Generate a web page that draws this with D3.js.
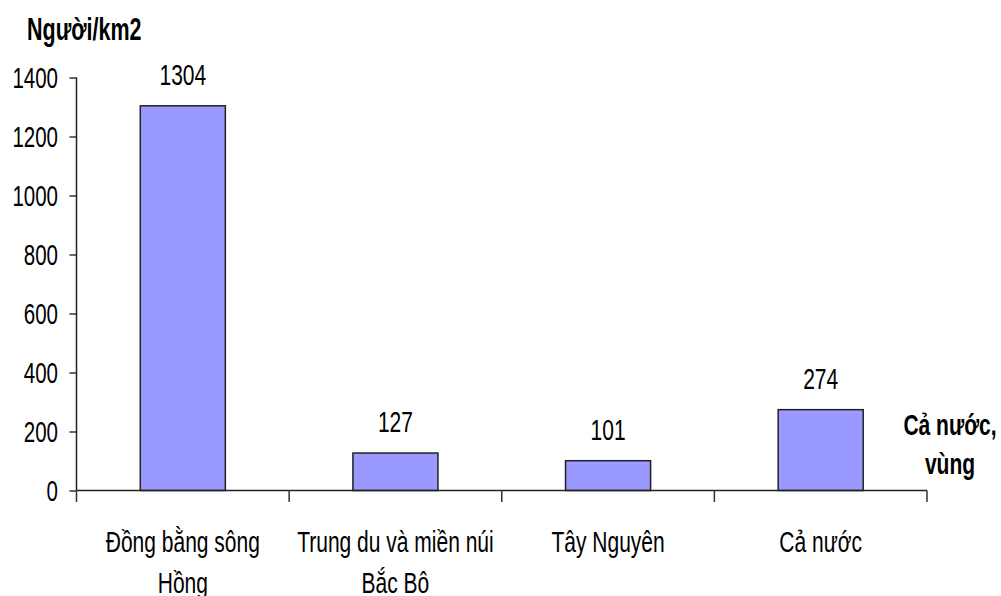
<!DOCTYPE html>
<meta charset="utf-8">
<script src="https://cdn.jsdelivr.net/npm/d3@7"></script>
<style>
body {margin: 0; background: #fff;}
text {font-family: "Liberation Sans", Arial, sans-serif; fill: #000;}
.bar {fill: #9999ff; stroke: #222; stroke-width: 1.5;}
.axis-line {stroke: #222; stroke-width: 1.5;}
.tick-mark {stroke: #333; stroke-width: 1.5;}
</style>
<div id="vis"></div>
<script>

// Data
var categories = ["Đồng bằng sông Hồng", "Trung du và miền núi Bắc Bô", "Tây Nguyên", "Cả nước"];
var categoryLines = [["Đồng bằng sông", "Hồng"], ["Trung du và miền núi", "Bắc Bô"], ["Tây Nguyên"], ["Cả nước"]];
var density = [1304, 127, 101, 274];
var yTicks = [0, 200, 400, 600, 800, 1000, 1200, 1400];
var yTitle = "Người/km2";
var xTitle = ["Cả nước,", "vùng"];

var w = 1001, h = 596;
var plotLeft = 76.5, plotRight = 927, plotTop = 77.5, plotBottom = 490.5;
var SY = 1.38; // text in the picture is stretched vertically

var svg = d3.select("#vis").append("svg")
    .attr("width", w)
    .attr("height", h);

var x = d3.scaleBand()
    .domain(categories)
    .range([plotLeft, plotRight])
    .paddingInner(0.6)
    .paddingOuter(0.3);

var y = d3.scaleLinear()
    .domain([0, 1400])
    .range([plotBottom, plotTop]);

// helper: stretched text at (px, py)
function stretched(sel, px, py, sy) {
  return sel.attr("transform", "translate(" + px + "," + py + ") scale(1," + sy + ")");
}

// bars
svg.selectAll(".bar")
    .data(density)
  .enter().append("rect")
    .attr("class", "bar")
    .attr("x", function(d, i) { return x(categories[i]); })
    .attr("y", function(d) { return y(d); })
    .attr("width", x.bandwidth())
    .attr("height", function(d) { return y(0) - y(d); });

// value labels
svg.selectAll(".label-val")
    .data(density)
  .enter().append("text")
    .attr("class", "label-val")
    .attr("text-anchor", "middle")
    .style("font-size", "21px")
    .text(function(d) { return d; })
    .each(function(d, i) {
      stretched(d3.select(this), x(categories[i]) + x.bandwidth() / 2, y(d) - 21, SY);
    });

// y axis
var yAxis = svg.append("g")
    .attr("transform", "translate(" + plotLeft + ",0)")
    .call(d3.axisLeft(y).tickValues(yTicks).tickFormat(d3.format("d")).tickSize(7).tickPadding(0));
yAxis.select(".domain").remove();
yAxis.selectAll(".tick line").attr("class", "tick-mark").attr("stroke", null);
yAxis.selectAll(".tick text")
    .attr("x", null).attr("dy", null)
    .attr("fill", null)
    .style("font-size", "20.5px")
    .attr("text-anchor", "end")
    .attr("transform", "translate(-18.5,10) scale(1,1.42)");
svg.append("line").attr("class", "axis-line")
    .attr("x1", plotLeft).attr("x2", plotLeft)
    .attr("y1", y(1400)).attr("y2", plotBottom);

// x axis
svg.append("line").attr("class", "axis-line")
    .attr("x1", plotLeft).attr("x2", plotRight)
    .attr("y1", plotBottom).attr("y2", plotBottom);

var step = x.step();
var bounds = categories.map(function(c) { return x(c) - x.paddingOuter() * step; });
bounds.push(plotRight);
svg.selectAll(".xtick")
    .data(bounds)
  .enter().append("line")
    .attr("class", "tick-mark")
    .attr("x1", function(d) { return d; })
    .attr("x2", function(d) { return d; })
    .attr("y1", plotBottom)
    .attr("y2", plotBottom + 11.5);

// category labels
categoryLines.forEach(function(lines, i) {
  var cx = x(categories[i]) + x.bandwidth() / 2;
  lines.forEach(function(line, j) {
    stretched(svg.append("text"), cx, 552 + j * 41, SY)
        .attr("text-anchor", "middle")
        .style("font-size", "21px")
        .text(line);
  });
});

// titles
stretched(svg.append("text"), 27, 40, 1.45)
    .style("font-size", "21.5px")
    .style("font-weight", "bold")
    .text(yTitle);

xTitle.forEach(function(line, j) {
  stretched(svg.append("text"), 950, 435 + j * 39, SY)
      .attr("text-anchor", "middle")
      .style("font-size", "21px")
      .style("font-weight", "bold")
      .text(line);
});

</script>
